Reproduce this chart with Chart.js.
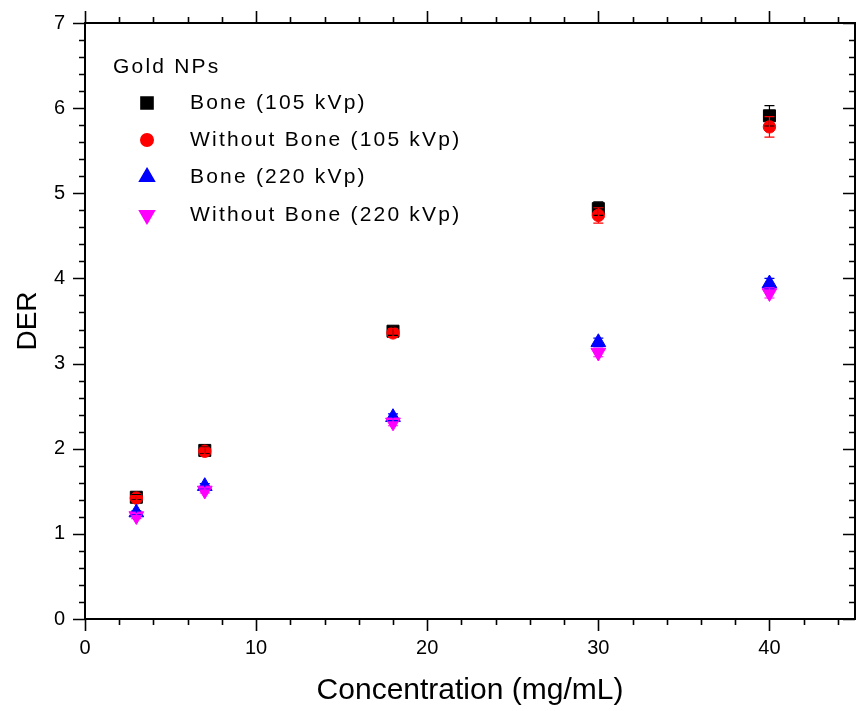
<!DOCTYPE html>
<html>
<head>
<meta charset="utf-8">
<script src="https://cdn.jsdelivr.net/npm/chart.js@4.4.1/dist/chart.umd.min.js"></script>
<style>
  html, body { margin: 0; padding: 0; background: #fff; }
  #wrap { width: 858px; height: 711px; }
</style>
</head>
<body>
<div id="wrap"><canvas id="chart" width="858" height="711"></canvas></div>
<script>
const concentrations = [3, 7, 18, 30, 40];

const boneLow = [1.43, 1.98, 3.38, 4.82, 5.91];
const boneLowErr = [0.03, 0.04, 0.05, 0.08, 0.12];
const noBoneLow = [1.42, 1.97, 3.36, 4.74, 5.78];
const noBoneLowErr = [0.03, 0.04, 0.05, 0.09, 0.12];
const boneHigh = [1.25, 1.56, 2.37, 3.25, 3.94];
const boneHighErr = [0.02, 0.03, 0.04, 0.05, 0.06];
const noBoneHigh = [1.21, 1.51, 2.31, 3.13, 3.83];
const noBoneHighErr = [0.03, 0.03, 0.04, 0.05, 0.06];

const seriesNames = ["Bone (105 kVp)", "Without Bone (105 kVp)", "Bone (220 kVp)", "Without Bone (220 kVp)"];
const legendTitle = "Gold NPs";
const xTitle = "Concentration (mg/mL)";
const yTitle = "DER";

const FONT = "'Liberation Sans', Arial, sans-serif";

function pts(ys) {
  return concentrations.map((x, i) => ({ x, y: ys[i] }));
}

const series = [
  { label: seriesNames[0], data: boneLow, err: boneLowErr, color: "#000000", style: "rect", radius: 8.5, rotation: 0, order: 4 },
  { label: seriesNames[1], data: noBoneLow, err: noBoneLowErr, color: "#ff0000", style: "circle", radius: 6.2, rotation: 0, order: 3 },
  { label: seriesNames[2], data: boneHigh, err: boneHighErr, color: "#0000ff", style: "triangle", radius: 8.5, rotation: 0, order: 2 },
  { label: seriesNames[3], data: noBoneHigh, err: noBoneHighErr, color: "#ff00ff", style: "triangle", radius: 8.5, rotation: 180, order: 1 }
];

// error bars, frame, minor ticks and the inset legend
const extras = {
  id: "extras",
  afterDatasetsDraw(chart) {
    const { ctx, scales: { x, y } } = chart;
    ctx.save();
    ctx.lineWidth = 1.2;
    series.forEach((s) => {
      ctx.strokeStyle = s.color;
      s.data.forEach((v, i) => {
        const px = x.getPixelForValue(concentrations[i]);
        const top = y.getPixelForValue(v + s.err[i]);
        const bot = y.getPixelForValue(v - s.err[i]);
        ctx.beginPath();
        ctx.moveTo(px, top); ctx.lineTo(px, bot);
        ctx.moveTo(px - 5, top); ctx.lineTo(px + 5, top);
        ctx.moveTo(px - 5, bot); ctx.lineTo(px + 5, bot);
        ctx.stroke();
      });
    });
    ctx.restore();
  },
  afterDraw(chart) {
    const { ctx, chartArea: a, scales: { x, y } } = chart;
    ctx.save();
    ctx.strokeStyle = "#000";
    ctx.lineWidth = 2;
    ctx.strokeRect(a.left, a.top, a.right - a.left, a.bottom - a.top);

    ctx.lineWidth = 1.6;
    ctx.beginPath();
    for (let v = 0; v <= 45; v += 2) {
      const px = Math.round(x.getPixelForValue(v)) + 0.5;
      const len = v % 10 === 0 ? 12 : 6;
      ctx.moveTo(px, a.bottom); ctx.lineTo(px, a.bottom + len);
      ctx.moveTo(px, a.top); ctx.lineTo(px, a.top - len);
    }
    for (let k = 0; k <= 35; k++) {
      const v = k / 5;
      const py = Math.round(y.getPixelForValue(v)) + 0.5;
      const len = k % 5 === 0 ? 12 : 6;
      ctx.moveTo(a.left, py); ctx.lineTo(a.left - len, py);
      ctx.moveTo(a.right, py); ctx.lineTo(a.right - len, py);
    }
    ctx.stroke();

    // legend
    ctx.fillStyle = "#000";
    ctx.textBaseline = "middle";
    ctx.textAlign = "left";
    ctx.font = "21px " + FONT;
    ctx.letterSpacing = "2.2px";
    ctx.fillText(legendTitle, 113, 67);
    const rows = [103, 140, 177, 215];
    series.forEach((s, i) => {
      ctx.fillStyle = s.color;
      ctx.strokeStyle = s.color;
      Chart.helpers.drawPoint(ctx, {
        pointStyle: s.style, radius: s.radius, rotation: s.rotation, borderWidth: 1
      }, 147, rows[i]);
      ctx.fillStyle = "#000";
      ctx.fillText(s.label, 190, rows[i]);
    });
    ctx.restore();
  }
};

// invisible tick marks only push the labels away from the axis
const hiddenGrid = (len) => ({
  display: true,
  drawOnChartArea: false,
  drawTicks: true,
  tickLength: len,
  tickColor: "rgba(0,0,0,0)"
});

const ctx = document.getElementById("chart");

new Chart(ctx, {
  type: "scatter",
  data: {
    datasets: series.map((s) => ({
      label: s.label,
      data: pts(s.data),
      order: s.order,
      pointStyle: s.style,
      rotation: s.rotation,
      pointRadius: s.radius,
      backgroundColor: s.color,
      borderColor: s.color,
      borderWidth: 1
    }))
  },
  options: {
    responsive: false,
    animation: false,
    devicePixelRatio: 1,
    layout: { autoPadding: false, padding: { top: 23, right: 3, left: 0, bottom: 0 } },
    plugins: {
      legend: { display: false },
      tooltip: { enabled: false }
    },
    scales: {
      x: {
        type: "linear",
        min: 0,
        max: 45,
        afterFit: (s) => { s.height = 92; s.paddingLeft = 0; s.paddingRight = 0; },
        border: { display: false },
        grid: hiddenGrid(14),
        ticks: {
          stepSize: 10,
          includeBounds: false,
          padding: 3,
          color: "#000",
          font: { family: FONT, size: 20 }
        },
        title: {
          display: true,
          text: xTitle,
          color: "#000",
          font: { family: FONT, size: 30 },
          padding: { top: 6, bottom: 2 }
        }
      },
      y: {
        type: "linear",
        min: 0,
        max: 7,
        afterFit: (s) => { s.width = 85; s.paddingTop = 0; s.paddingBottom = 0; },
        border: { display: false },
        grid: hiddenGrid(17),
        ticks: {
          stepSize: 1,
          padding: 3,
          color: "#000",
          font: { family: FONT, size: 20 }
        },
        title: {
          display: true,
          text: yTitle,
          color: "#000",
          font: { family: FONT, size: 28 },
          padding: { top: 11, bottom: 0 }
        }
      }
    }
  },
  plugins: [extras]
});
</script>
</body>
</html>
